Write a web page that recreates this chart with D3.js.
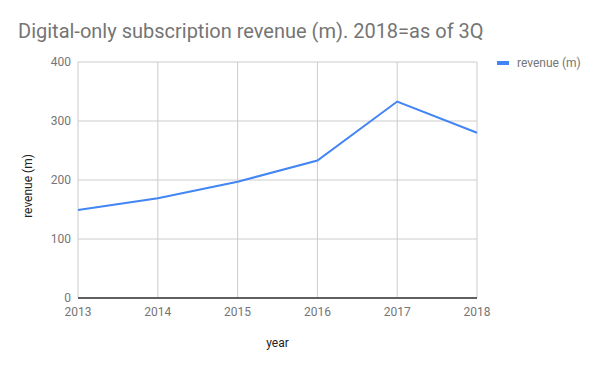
<!DOCTYPE html>
<html>
<head>
<meta charset="utf-8">
<script src="https://cdn.jsdelivr.net/npm/d3@7"></script>
<style>
  body { margin: 0; background: #fff; }
  text { font-family: Roboto, "Noto Sans", sans-serif; }
</style>
</head>
<body>
<div id="chart"></div>
<script>
// Data
const years = [2013, 2014, 2015, 2016, 2017, 2018];
const revenue = [149, 169, 197, 233, 333, 280];
const yTicks = [0, 100, 200, 300, 400];

const width = 600, height = 371;
const margin = { top: 62, right: 123, bottom: 73, left: 78 };
const innerW = width - margin.left - margin.right;
const innerH = height - margin.top - margin.bottom;

const svg = d3.select('#chart')
    .append('svg')
    .attr('width', width)
    .attr('height', height);

// Title
svg.append('text')
    .attr('x', 18)
    .attr('y', 38)
    .style('font-size', '20px')
    .style('fill', '#757575')
    .text('Digital-only subscription revenue (m). 2018=as of 3Q');

const g = svg.append('g')
    .attr('transform', `translate(${margin.left},${margin.top})`);

const x = d3.scaleLinear()
    .domain([2013, 2018])
    .range([0, innerW]);

const y = d3.scaleLinear()
    .domain([0, 400])
    .range([innerH, 0]);

// Horizontal gridlines
g.selectAll('.hgrid')
    .data(yTicks)
    .enter()
    .append('line')
    .attr('x1', 0)
    .attr('x2', innerW)
    .attr('y1', d => y(d))
    .attr('y2', d => y(d))
    .attr('stroke', '#cccccc')
    .attr('stroke-width', 1);

// Vertical gridlines
g.selectAll('.vgrid')
    .data(years)
    .enter()
    .append('line')
    .attr('x1', d => x(d))
    .attr('x2', d => x(d))
    .attr('y1', 0)
    .attr('y2', innerH)
    .attr('stroke', '#cccccc')
    .attr('stroke-width', 1);

// Baseline
g.append('line')
    .attr('x1', 0)
    .attr('x2', innerW)
    .attr('y1', y(0))
    .attr('y2', y(0))
    .attr('stroke', '#333333')
    .attr('stroke-width', 1.5);

// Y tick labels
g.selectAll('.ylab')
    .data(yTicks)
    .enter()
    .append('text')
    .attr('x', -7)
    .attr('y', d => y(d))
    .attr('dy', '0.35em')
    .attr('text-anchor', 'end')
    .style('font-size', '12px')
    .style('fill', '#757575')
    .text(d => d);

// X tick labels
g.selectAll('.xlab')
    .data(years)
    .enter()
    .append('text')
    .attr('x', d => x(d))
    .attr('y', innerH + 18)
    .attr('text-anchor', 'middle')
    .style('font-size', '12px')
    .style('fill', '#757575')
    .text(d => d);

// Axis titles
svg.append('text')
    .attr('x', margin.left + innerW / 2)
    .attr('y', 347)
    .attr('text-anchor', 'middle')
    .style('font-size', '12px')
    .style('fill', '#222')
    .text('year');

svg.append('text')
    .attr('transform', 'translate(32,186) rotate(-90)')
    .attr('text-anchor', 'middle')
    .style('font-size', '12px')
    .style('fill', '#222')
    .text('revenue (m)');

// Line
const points = years.map((yr, i) => [yr, revenue[i]]);
const line = d3.line()
    .x(d => x(d[0]))
    .y(d => y(d[1]));

g.append('path')
    .datum(points)
    .attr('d', line)
    .attr('fill', 'none')
    .attr('stroke', '#4285f4')
    .attr('stroke-width', 2);

// Legend
const legend = svg.append('g')
    .attr('transform', 'translate(497,63)');

legend.append('rect')
    .attr('x', 0)
    .attr('y', -2)
    .attr('width', 12)
    .attr('height', 4)
    .attr('fill', '#4285f4');

legend.append('text')
    .attr('x', 20)
    .attr('y', 0)
    .attr('dy', '0.35em')
    .style('font-size', '12px')
    .style('fill', '#757575')
    .text('revenue (m)');
</script>
</body>
</html>
